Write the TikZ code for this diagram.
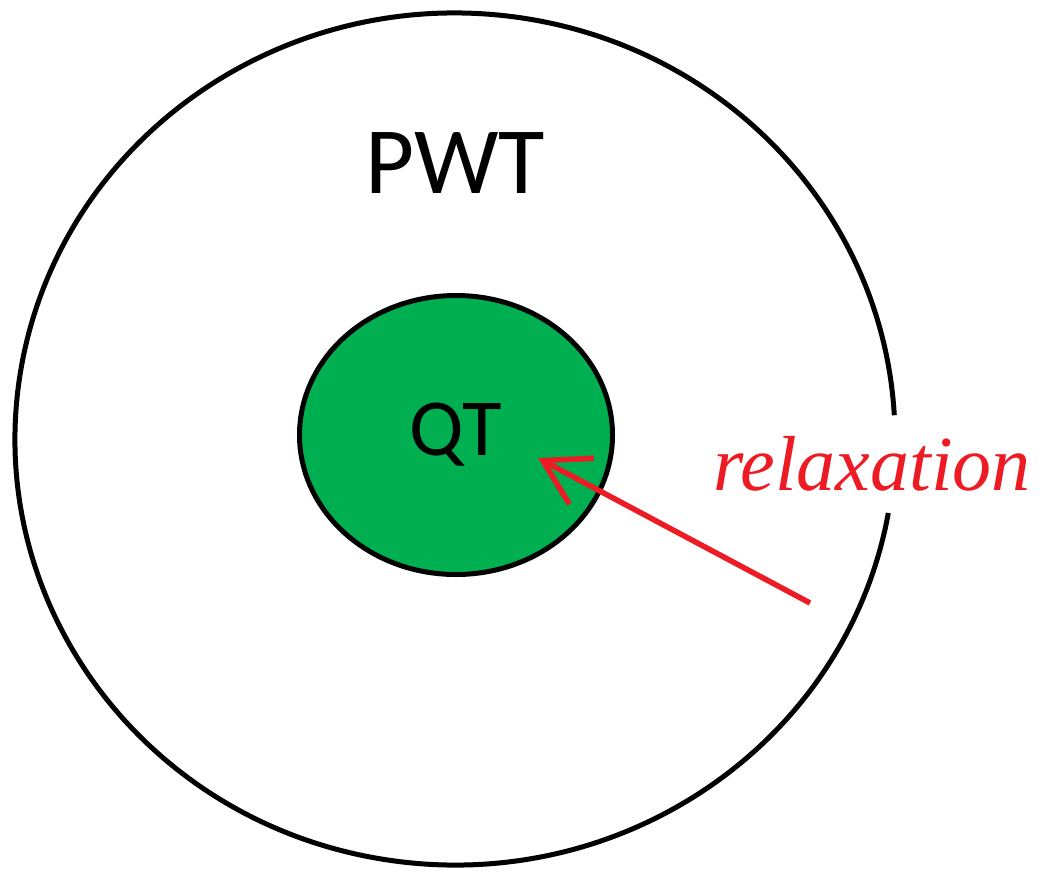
\documentclass[tikz,border=0pt]{standalone}
\usepackage{fontspec}
\setmainfont{Liberation Serif}
\newfontfamily\calib{Carlito}
\usetikzlibrary{arrows.meta,shapes.geometric}
\definecolor{qtgreen}{RGB}{0,176,80}
\definecolor{relred}{RGB}{237,28,36}
\begin{document}
\begin{tikzpicture}[x=1pt,y=-1pt,
  outer/.style={draw=black,line width=5pt},
  inner/.style={ellipse,draw=black,line width=5pt,fill=qtgreen,minimum width=313pt,minimum height=279pt,inner sep=0pt,font=\calib\fontsize{81}{81}\selectfont},
  big/.style={font=\calib\fontsize{95}{95}\selectfont,inner sep=0pt},
  rel/.style={text=relred,font=\itshape\fontsize{78}{78}\selectfont,inner sep=0pt},
  arr/.style={draw=relred,line width=5.5pt,-{Straight Barb[length=44pt,width=52pt]}}]
  \useasboundingbox (0,0) rectangle (1044,879);
  % outer set, left open where the label crosses it
  \coordinate (ctr) at (455,439);
  \draw[outer] ([shift={(10:440 and 426)}]ctr) arc[start angle=10,end angle=356.8,x radius=440,y radius=426];
  \node[big,anchor=base] (pwt) at (455,193) {PWT};
  % inner set
  \node[inner] (qt) at (456,435) {QT};
  % relaxation arrow
  \coordinate (tail) at (810,603); \coordinate (tip) at (538,458);
  \draw[arr] (tail) -- (tip);
  \node[rel,anchor=base] (relax) at (872,490) {relaxation};
\end{tikzpicture}
\end{document}
